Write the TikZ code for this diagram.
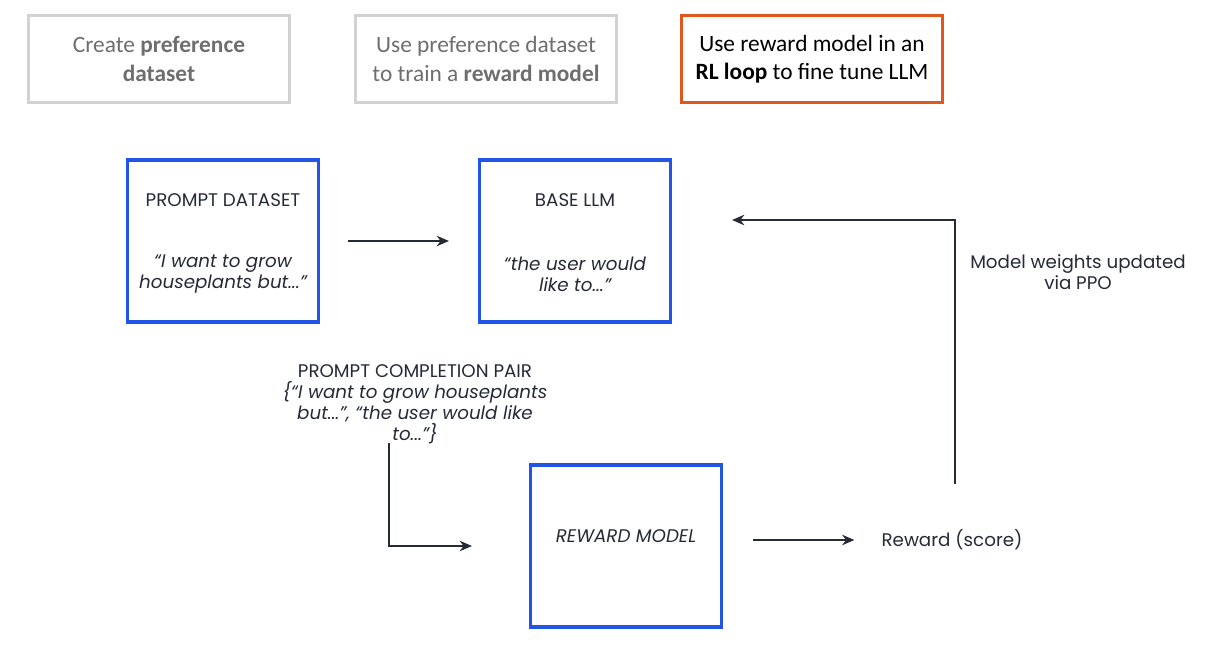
\documentclass[tikz,border=0pt]{standalone}
\usepackage{fontspec}
\setmainfont{Poppins}
\newfontfamily\calfont{Carlito}
\usepackage{xcolor}
\usetikzlibrary{arrows.meta}

\definecolor{stepgray}{HTML}{D2D2D2}
\definecolor{stepgraytext}{HTML}{6E6E6E}
\definecolor{steporange}{HTML}{E0561C}
\definecolor{boxblue}{HTML}{2155E6}
\definecolor{linkdark}{HTML}{252A36}

\tikzset{
	stepbox/.style={draw=stepgray, line width=1.8pt, minimum width=5.22cm, minimum height=1.74cm, align=center, font=\calfont\fontsize{13.3}{16}\selectfont, text=stepgraytext},
	stepnow/.style={stepbox, draw=steporange, text=black},
	llmbox/.style={draw=boxblue, line width=1.8pt, minimum width=3.82cm, minimum height=3.24cm},
	boxtext/.style={align=center, font=\fontsize{10.4}{12}\selectfont, text=linkdark},
	link/.style={draw=linkdark, line width=0.8pt, -{Stealth[length=7pt,width=6pt]}}
}

\begin{document}
\begin{tikzpicture}[x=0.02cm, y=-0.02cm]
			\useasboundingbox (0,0) rectangle (1205,645);
			% top row of steps
			\node[stepbox] (create) at (159,59) {Create \textbf{preference}\\\textbf{dataset}};
			\node[stepbox] (train) at (486,59) {Use preference dataset\\to train a \textbf{reward model}};
			\node[stepnow] (loop) at (812,59) {Use reward model in an\\\textbf{RL loop} to fine tune LLM};
			% blue boxes
			\node[llmbox] (prompts) at (223,241) {};
			\node[boxtext] (promptstitle) at (223,200) {PROMPT DATASET};
			\node[boxtext] (promptstext) at (223,274) {\itshape “I want to grow\\\itshape houseplants but...”};
			\node[llmbox] (base) at (575,241) {};
			\node[boxtext] (basetitle) at (575,200) {BASE LLM};
			\node[boxtext] (basetext) at (575,274) {\itshape “the user would\\\itshape like to...”};
			\node[llmbox] (reward) at (626,546) {};
			\node[boxtext] (rewardtitle) at (626,536) {\itshape REWARD MODEL};
			% labels
			\node[boxtext] (pair) at (415,404) {PROMPT COMPLETION PAIR\\\itshape \{“I want to grow houseplants\\\itshape but...”, “the user would like\\\itshape to...”\}};
			\node[boxtext] (score) at (952,540) {Reward (score)};
			\node[boxtext] (ppo) at (1078,272) {Model weights updated\\via PPO};
			% connectors
			\coordinate (pairend) at (389,443);
			\coordinate (scoreend) at (955,484);
			\draw[link] ([xshift=0.56cm]prompts.east) -- ([xshift=-0.58cm]base.west);
			\draw[link] (pairend) |- ([xshift=-1.14cm]reward.west);
			\draw[link] ([xshift=0.6cm]reward.east |- score) -- ([xshift=-0.42cm]score.west);
			\draw[link] (scoreend) |- ([xshift=1.2cm, yshift=0.42cm]base.east);
		\end{tikzpicture}
\end{document}
